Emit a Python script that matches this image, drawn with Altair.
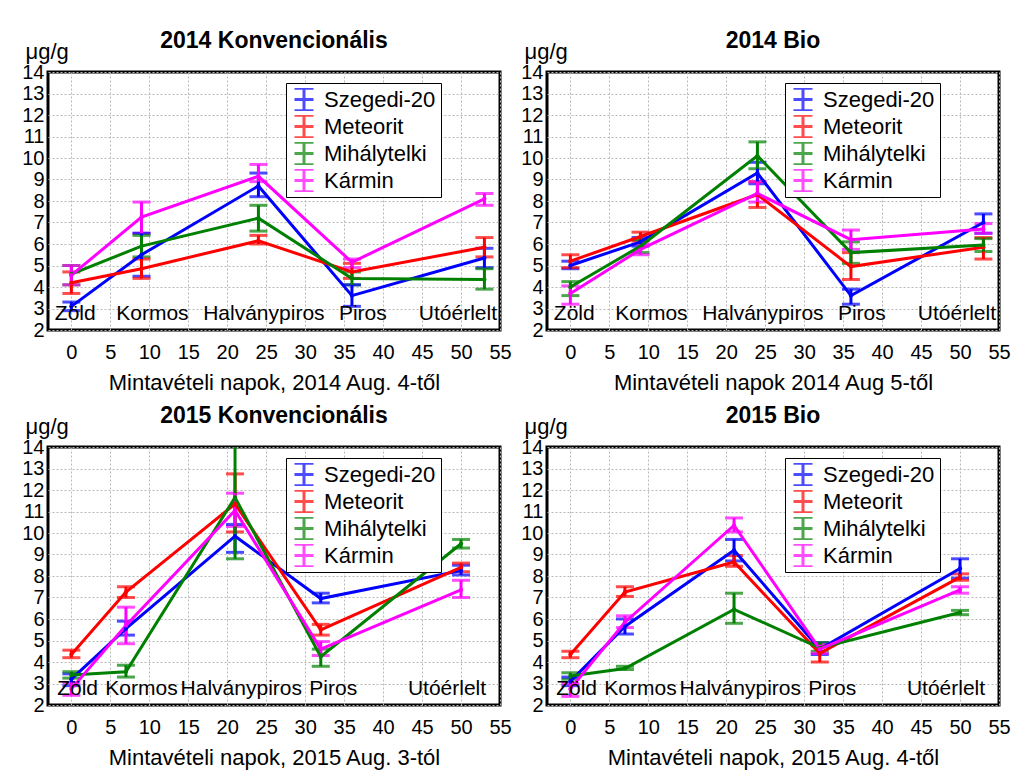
import altair as alt
import pandas as pd

SERIES = ["Szegedi-20", "Meteorit", "Mihálytelki", "Kármin"]
COLORS = ["#0000FF", "#FF0000", "#008000", "#FF00FF"]
STAGES = ["Zöld", "Kormos", "Halványpiros", "Piros", "Utóérlelt"]

days_2014 = [0, 9, 24, 36, 53]
days_2015 = [0, 7, 21, 32, 50]
stage_x_2014 = [0.5, 10.4, 24.7, 37.4, 49.6]
stage_x_2015 = [0.8, 9.0, 21.8, 33.6, 48.2]
stage_y = 2.45

# 2014 Konvencionális: mean, low, high per series
k14_mean = [[3.1, 5.5, 8.7, 3.6, 5.35], [4.2, 4.85, 6.15, 4.7, 5.85],
            [4.6, 5.9, 7.2, 4.4, 4.35], [4.55, 7.25, 9.15, 5.15, 8.1]]
k14_lo = [[2.9, 4.5, 8.2, 3.1, 4.9], [3.7, 4.4, 6.0, 4.4, 5.4],
          [4.1, 5.4, 6.6, 4.1, 3.9], [4.1, 6.5, 8.9, 4.9, 7.8]]
k14_hi = [[3.3, 6.5, 9.3, 4.1, 5.8], [4.7, 5.3, 6.4, 5.1, 6.3],
          [5.0, 6.4, 7.8, 4.7, 4.85], [5.0, 7.95, 9.7, 5.3, 8.35]]

# 2014 Bio
b14_mean = [[5.0, 6.1, 9.3, 3.6, 7.0], [5.2, 6.35, 8.3, 4.95, 5.85],
            [4.0, 5.9, 10.1, 5.6, 5.95], [3.7, 5.75, 8.35, 6.2, 6.7]]
b14_lo = [[4.85, 5.9, 8.8, 3.2, 6.5], [4.9, 6.15, 7.7, 4.35, 5.3],
          [3.6, 5.6, 9.5, 5.1, 5.65], [3.2, 5.5, 7.95, 5.75, 6.5]]
b14_hi = [[5.2, 6.3, 9.8, 3.9, 7.4], [5.5, 6.55, 8.9, 5.6, 6.3],
          [4.25, 6.2, 10.75, 6.1, 6.25], [4.05, 6.0, 8.9, 6.65, 6.95]]

# 2015 Konvencionális
k15_mean = [[3.2, 5.55, 9.85, 6.95, 8.25], [4.35, 7.25, 11.35, 5.5, 8.4],
            [3.4, 3.55, 11.65, 4.25, 9.5], [2.75, 5.7, 11.05, 4.6, 7.35]]
k15_lo = [[2.9, 5.25, 9.1, 6.75, 8.05], [4.2, 7.0, 10.05, 5.25, 8.2],
          [3.25, 3.3, 8.8, 3.8, 9.3], [2.45, 4.85, 10.3, 4.3, 7.0]]
k15_hi = [[3.45, 5.9, 10.4, 7.2, 8.5], [4.55, 7.5, 12.75, 5.75, 8.6],
          [3.55, 3.85, 14.5, 4.6, 9.7], [3.05, 6.55, 11.85, 4.95, 7.8]]

# 2015 Bio
b15_mean = [[3.1, 5.65, 9.2, 4.6, 8.35], [4.35, 7.25, 8.65, 4.4, 7.95],
            [3.35, 3.7, 6.45, 4.65, 6.3], [2.75, 5.85, 10.35, 4.6, 7.35]]
b15_lo = [[2.9, 5.3, 8.7, 4.35, 7.9], [4.2, 7.05, 8.45, 4.0, 7.8],
          [3.2, 3.65, 5.8, 4.5, 6.2], [2.4, 5.6, 10.05, 4.4, 7.2]]
b15_hi = [[3.3, 6.0, 9.7, 4.9, 8.8], [4.5, 7.5, 8.95, 4.75, 8.1],
          [3.5, 3.8, 7.2, 4.9, 6.4], [3.0, 6.15, 10.7, 4.8, 7.5]]

X_TICKS = [0, 5, 10, 15, 20, 25, 30, 35, 40, 45, 50, 55]
Y_TICKS = [2, 3, 4, 5, 6, 7, 8, 9, 10, 11, 12, 13, 14]

FONT = "Liberation Sans"
SYMBOL = "M-0.85,-1H0.85M-0.85,0H0.85M-0.85,1H0.85M0,-1V1"


def make_panel(title, xtitle, days, stage_x, means, los, his):
    rows = []
    for si, name in enumerate(SERIES):
        for di, d in enumerate(days):
            rows.append({"series": name, "day": d, "mean": means[si][di],
                         "lo": los[si][di], "hi": his[si][di]})
    df = pd.DataFrame(rows)
    lab = pd.DataFrame({"label": STAGES, "x": stage_x, "y": [stage_y] * len(STAGES)})

    xs = alt.Scale(domain=[-3, 55], nice=False, zero=False)
    ys = alt.Scale(domain=[2, 14], nice=False, zero=False)
    cs = alt.Scale(domain=SERIES, range=COLORS)

    xax = alt.Axis(values=X_TICKS, title=xtitle, labelFlush=False,
                   labelOverlap=False)
    yax = alt.Axis(values=Y_TICKS, title="μg/g", titleAngle=0,
                   titleAlign="left", titleBaseline="alphabetic",
                   titleX=-23, titleY=-14, labelOverlap=False)

    legend = alt.Legend(title=None, orient="none", legendX=238, legendY=11,
                        symbolType=SYMBOL, symbolSize=500, symbolStrokeWidth=3,
                        labelFontSize=22, labelFont=FONT, labelColor="black",
                        strokeColor="black", fillColor="white", padding=5,
                        rowPadding=4, clipHeight=23, labelOffset=7, symbolLimit=0)
    color = alt.Color("series:N", scale=cs, legend=legend, sort=SERIES)
    X = alt.X("day:Q", scale=xs, axis=xax)

    base = alt.Chart(df)
    err = base.mark_errorbar(ticks=True, size=18, thickness=3, clip=True).encode(
        x=X, y=alt.Y("lo:Q", scale=ys, axis=yax), y2="hi:Q", color=color,
    )
    line = base.mark_line(strokeWidth=3, clip=True).encode(
        x=X, y=alt.Y("mean:Q", scale=ys, axis=yax), color=color, order="day:Q",
    )
    pts = base.mark_circle(size=18, opacity=1).encode(
        x=X, y=alt.Y("mean:Q", scale=ys, axis=yax), color=color,
    )
    text = alt.Chart(lab).mark_text(fontSize=21, font=FONT, baseline="alphabetic",
                                    align="center", color="black").encode(
        x=alt.X("x:Q", scale=xs, axis=xax),
        y=alt.Y("y:Q", scale=ys, axis=yax), text="label:N")

    return alt.layer(err, line, pts, text).properties(
        width=452, height=258,
        title=alt.TitleParams(title, fontSize=23, font=FONT, fontWeight="bold",
                              anchor="middle", frame="group", dy=17),
    )


p1 = make_panel("2014 Konvencionális", "Mintavételi napok, 2014 Aug. 4-től",
                days_2014, stage_x_2014, k14_mean, k14_lo, k14_hi)
p2 = make_panel("2014 Bio", "Mintavételi napok 2014 Aug 5-től",
                days_2014, stage_x_2014, b14_mean, b14_lo, b14_hi)
p3 = make_panel("2015 Konvencionális", "Mintavételi napok, 2015 Aug. 3-tól",
                days_2015, stage_x_2015, k15_mean, k15_lo, k15_hi)
p4 = make_panel("2015 Bio", "Mintavételi napok, 2015 Aug. 4-től",
                days_2015, stage_x_2015, b15_mean, b15_lo, b15_hi)

chart = alt.concat(p1, p2, p3, p4, columns=2,
                   spacing=alt.RowColnumber(row=8, column=6)) \
    .resolve_legend(color="independent") \
    .properties(padding={"left": 12, "top": 20, "right": 0, "bottom": 0}) \
    .configure_view(stroke="black", strokeWidth=3) \
    .configure_axis(labelFont=FONT, labelFontSize=20, labelColor="black",
                    titleFont=FONT, titleFontSize=22, titleFontWeight="normal",
                    titleColor="black", ticks=False, domain=False,
                    grid=True, gridColor="#b8b8b8", gridDash=[2, 2], gridWidth=1) \
    .configure_axisX(labelPadding=12, titlePadding=10) \
    .configure_axisY(labelPadding=4)

chart.save("out.html", embed_options={"renderer": "svg", "actions": False})
